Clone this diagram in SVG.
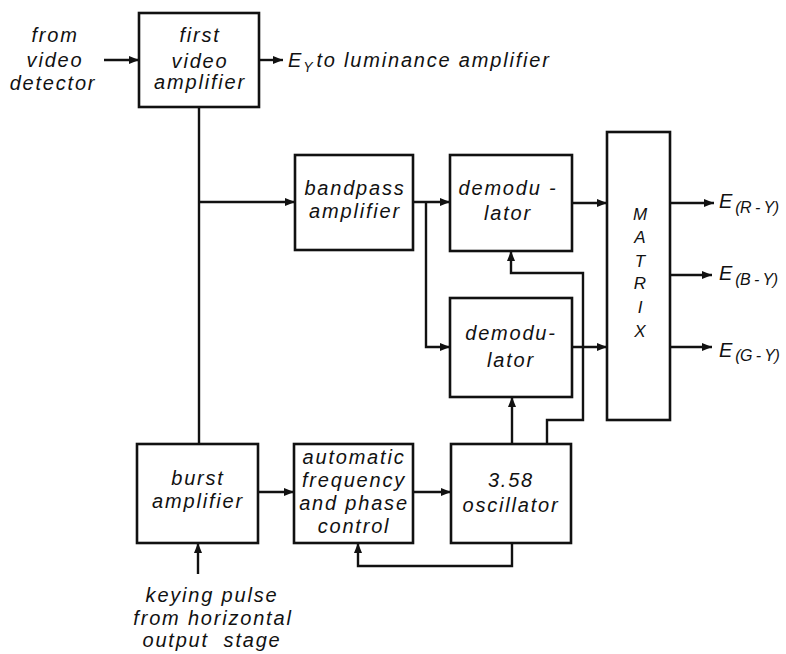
<svg xmlns="http://www.w3.org/2000/svg" width="786" height="654" viewBox="0 0 786 654">
<defs>
<marker id="ah" viewBox="0 0 10 8" refX="10" refY="4" markerWidth="10" markerHeight="8" markerUnits="userSpaceOnUse" orient="auto">
<path d="M0,0 L10,4 L0,8 Z" fill="#111"/>
</marker>
<style>
.box{fill:#fff;stroke:#111;stroke-width:2.6}
.ln{fill:none;stroke:#111;stroke-width:2.4}
.ar{fill:none;stroke:#111;stroke-width:2.4;marker-end:url(#ah)}
text{font-family:"Liberation Sans",Arial,sans-serif;font-style:italic;font-size:20px;letter-spacing:1.8px;fill:#111}
.c{text-anchor:middle}
.mx{font-size:17px;letter-spacing:0}
.sub{font-size:16px;letter-spacing:-0.5px}
</style>
</defs>
<rect width="786" height="654" fill="#fff"/>
<g id="connectors">
<path class="ar" d="M104,60 H139"/>
<path class="ar" d="M259,60 H283"/>
<path class="ln" d="M199,107 V444"/>
<path class="ar" d="M199,202 H295"/>
<path class="ar" d="M413,202 H450"/>
<path class="ar" d="M426,202 V347 H450"/>
<path class="ar" d="M572,203 H607"/>
<path class="ar" d="M572,347 H607"/>
<path class="ar" d="M670,203 H714"/>
<path class="ar" d="M670,275 H712"/>
<path class="ar" d="M670,347 H712"/>
<path class="ar" d="M512,444 V397"/>
<path class="ar" d="M547,444 V420 H583 V273 H511 V251"/>
<path class="ar" d="M258,492 H294"/>
<path class="ar" d="M413,492 H451"/>
<path class="ar" d="M512,543 V566 H358 V543"/>
<path class="ar" d="M198,574 V543"/>
</g>
<g id="first-video-amplifier">
<rect class="box" x="139" y="13" width="120" height="94"/>
<text class="c" x="200" y="42">first</text>
<text class="c" x="200" y="68">video</text>
<text class="c" x="200" y="89">amplifier</text>
</g>
<g id="bandpass-amplifier">
<rect class="box" x="295" y="155" width="118" height="95"/>
<text class="c" x="355" y="195">bandpass</text>
<text class="c" x="355" y="218">amplifier</text>
</g>
<g id="demodulator-1">
<rect class="box" x="450" y="155" width="122" height="96"/>
<text class="c" x="508" y="195">demodu -</text>
<text class="c" x="508" y="220">lator</text>
</g>
<g id="demodulator-2">
<rect class="box" x="450" y="298" width="122" height="99"/>
<text class="c" x="511" y="340">demodu-</text>
<text class="c" x="511" y="367">lator</text>
</g>
<g id="matrix">
<rect class="box" x="607" y="132" width="63" height="288"/>
<text class="c mx" x="640" y="220">M</text>
<text class="c mx" x="640" y="243">A</text>
<text class="c mx" x="640" y="267">T</text>
<text class="c mx" x="640" y="289">R</text>
<text class="c mx" x="640" y="313">I</text>
<text class="c mx" x="640" y="337">X</text>
</g>
<g id="burst-amplifier">
<rect class="box" x="137" y="444" width="121" height="99"/>
<text class="c" x="198" y="485">burst</text>
<text class="c" x="198" y="508">amplifier</text>
</g>
<g id="afc">
<rect class="box" x="294" y="444" width="119" height="99"/>
<text class="c" x="354" y="464">automatic</text>
<text class="c" x="354" y="487">frequency</text>
<text class="c" x="354" y="510">and phase</text>
<text class="c" x="354" y="533">control</text>
</g>
<g id="oscillator">
<rect class="box" x="451" y="444" width="120" height="99"/>
<text class="c" x="511" y="487">3.58</text>
<text class="c" x="511" y="512">oscillator</text>
</g>
<g id="labels">
<text class="c" x="55" y="42">from</text>
<text class="c" x="55" y="67">video</text>
<text class="c" x="53" y="90">detector</text>
<text x="288" y="67">E<tspan font-size="14px" letter-spacing="0" dy="5">Y</tspan><tspan dx="4" dy="-5">to luminance amplifier</tspan></text>
<text x="719" y="208" letter-spacing="0">E<tspan class="sub" dx="1" dy="5">(R - Y)</tspan></text>
<text x="719" y="280" letter-spacing="0">E<tspan class="sub" dx="1" dy="5">(B - Y)</tspan></text>
<text x="719" y="357" letter-spacing="0">E<tspan class="sub" dx="1" dy="4">(G - Y)</tspan></text>
<text class="c" x="212" y="602">keying pulse</text>
<text class="c" x="213" y="625">from horizontal</text>
<text class="c" x="212" y="647">output&#160;&#160;stage</text>
</g>
</svg>
